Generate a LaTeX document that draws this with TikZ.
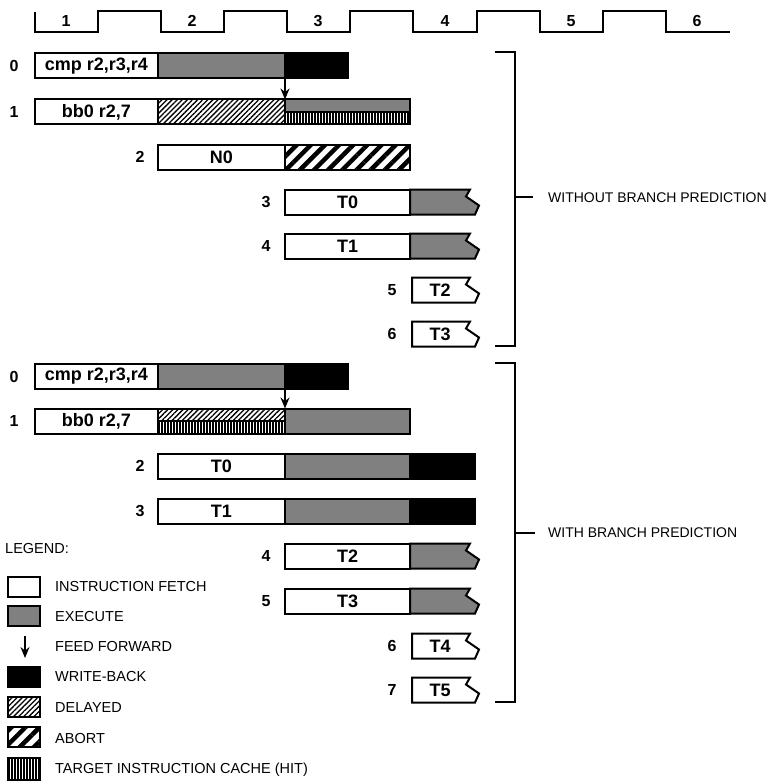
\documentclass[tikz,border=0pt]{standalone}
\usepackage{fontspec}
\setmainfont{Liberation Sans}
\usetikzlibrary{patterns.meta,arrows.meta}
\tikzset{
  cell/.style={draw, line width=2pt, minimum height=25pt, inner sep=0pt, outer sep=0pt, anchor=west},
  half/.style={draw, line width=2pt, minimum height=12.5pt, inner sep=0pt, outer sep=0pt},
  fetchbox/.style={cell, fill=white, font=\bfseries\fontsize{18}{18}\selectfont},
  exebox/.style={cell, fill=black!50},
  wbbox/.style={cell, fill=black},
  dlybox/.style={cell, pattern={Lines[angle=45,distance=3.6pt,line width=1.3pt]}},
  abortbox/.style={cell, pattern={Lines[angle=45,distance=10pt,line width=4.5pt]}},
  cachebox/.style={cell, pattern={Lines[angle=90,distance=3pt,line width=1.3pt]}},
  rowlbl/.style={font=\bfseries\fontsize{16}{16}\selectfont, inner sep=0pt},
  boxtxt/.style={font=\bfseries\fontsize{18}{18}\selectfont, inner sep=0pt},
  sidetxt/.style={font=\fontsize{14}{14}\selectfont, anchor=west, inner sep=0pt},
  legtxt/.style={font=\fontsize{14.5}{14.5}\selectfont, anchor=west, inner sep=0pt},
  legbox/.style={draw, line width=1.8pt, minimum width=32pt, minimum height=20pt, inner sep=0pt, outer sep=0pt, anchor=west},
  ffarrow/.style={-{Stealth[length=11pt,width=9pt]}, line width=1.6pt},
  brk/.style={line width=1.6pt},
  clk/.style={line width=2.2pt},
}
% notched cell: #1 x0, #2 xe, #3 yc, #4 fill options
\newcommand\notchcell[4]{%
  \path[draw, line width=2pt, line join=miter, #4]
    (#1,#3-12.5) -- (#2-8,#3-12.5) -- (#2-12,#3-5.5) -- (#2+1,#3+3.5) -- (#2-3,#3+12.5) -- (#1,#3+12.5) -- cycle;}
\begin{document}
\begin{tikzpicture}[x=1pt,y=-1pt]
\useasboundingbox (0,0) rectangle (775,781);

% clock
\draw[clk] (35,12) -- (35,32) -- (98,32) -- (98,11) -- (161,11) -- (161,32) -- (224,32) -- (224,11)
  -- (287,11) -- (287,32) -- (350,32) -- (350,11) -- (413,11) -- (413,32) -- (477,32) -- (477,11)
  -- (540,11) -- (540,32) -- (603,32) -- (603,11) -- (666,11) -- (666,32) -- (730,32);
\node[rowlbl] (c1) at (66,21) {1};
\node[rowlbl] (c2) at (192,21) {2};
\node[rowlbl] (c3) at (318,21) {3};
\node[rowlbl] (c4) at (445,21) {4};
\node[rowlbl] (c5) at (571,21) {5};
\node[rowlbl] (c6) at (697,21) {6};

% ===== WITHOUT BRANCH PREDICTION =====
% row 0
\node[rowlbl] (l0) at (14,66) {0};
\node[exebox, minimum width=127pt] (a0e) at (158,66) {};
\node[wbbox, minimum width=63pt] (a0w) at (285,66) {};
\node[fetchbox, minimum width=123pt] (a0f) at (35,66) {cmp r2,r3,r4};
% row 1
\node[rowlbl] (l1) at (14,112) {1};
\node[dlybox, minimum width=127pt] (a1d) at (158,112) {};
\node[half, fill=black!50, minimum width=125pt, anchor=south west] (a1e) at (285,112) {};
\node[half, pattern={Lines[angle=90,distance=3pt,line width=1.3pt]}, minimum width=125pt, anchor=north west] (a1c) at (285,112) {};
\node[fetchbox, minimum width=123pt] (a1f) at (35,112) {bb0 r2,7};
\draw[ffarrow] (a0e.south east) -- (a1d.north east);
% row 2
\node[rowlbl] (l2) at (140,157) {2};
\node[abortbox, minimum width=125pt] (a2a) at (285,157) {};
\node[fetchbox, minimum width=127pt] (a2f) at (158,157) {N0};
% row 3
\node[rowlbl] (l3) at (266,202) {3};
\notchcell{410}{478}{202}{fill=black!50}
\node[fetchbox, minimum width=125pt] (a3f) at (285,202) {T0};
% row 4
\node[rowlbl] (l4) at (266,246) {4};
\notchcell{410}{478}{246}{fill=black!50}
\node[fetchbox, minimum width=125pt] (a4f) at (285,246) {T1};
% row 5
\node[rowlbl] (l5) at (392,290) {5};
\notchcell{412}{478}{290}{fill=white}
\node[boxtxt] (a5t) at (440,290) {T2};
% row 6
\node[rowlbl] (l6) at (392,334) {6};
\notchcell{412}{478}{334}{fill=white}
\node[boxtxt] (a6t) at (440,334) {T3};
% bracket
\draw[brk] (495,52) -- (515,52) -- (515,346) -- (495,346);
\coordinate (bk1) at (515,197);
\node[sidetxt] (wo) at (548,198) {WITHOUT BRANCH PREDICTION};
\draw[brk] (bk1) -- ++(18,0);

% ===== WITH BRANCH PREDICTION =====
% row 0
\node[rowlbl] (m0) at (14,377) {0};
\node[exebox, minimum width=127pt] (b0e) at (158,376) {};
\node[wbbox, minimum width=63pt] (b0w) at (285,376) {};
\node[fetchbox, minimum width=123pt] (b0f) at (35,376) {cmp r2,r3,r4};
% row 1
\node[rowlbl] (m1) at (14,421) {1};
\node[half, pattern={Lines[angle=45,distance=3.6pt,line width=1.3pt]}, minimum width=127pt, anchor=south west] (b1d) at (158,421) {};
\node[half, pattern={Lines[angle=90,distance=3pt,line width=1.3pt]}, minimum width=127pt, anchor=north west] (b1c) at (158,421) {};
\node[exebox, minimum width=125pt] (b1e) at (285,421) {};
\node[fetchbox, minimum width=123pt] (b1f) at (35,421) {bb0 r2,7};
\draw[ffarrow] (b0e.south east) -- (b1d.north east);
% row 2
\node[rowlbl] (m2) at (140,466) {2};
\node[exebox, minimum width=125pt] (b2e) at (285,466) {};
\node[wbbox, minimum width=65pt] (b2w) at (410,466) {};
\node[fetchbox, minimum width=127pt] (b2f) at (158,466) {T0};
% row 3
\node[rowlbl] (m3) at (140,511) {3};
\node[exebox, minimum width=125pt] (b3e) at (285,511) {};
\node[wbbox, minimum width=65pt] (b3w) at (410,511) {};
\node[fetchbox, minimum width=127pt] (b3f) at (158,511) {T1};
% row 4
\node[rowlbl] (m4) at (266,556) {4};
\notchcell{410}{478}{556}{fill=black!50}
\node[fetchbox, minimum width=125pt] (b4f) at (285,556) {T2};
% row 5
\node[rowlbl] (m5) at (266,601) {5};
\notchcell{410}{478}{601}{fill=black!50}
\node[fetchbox, minimum width=125pt] (b5f) at (285,601) {T3};
% row 6
\node[rowlbl] (m6) at (392,646) {6};
\notchcell{412}{478}{646}{fill=white}
\node[boxtxt] (b6t) at (440,646) {T4};
% row 7
\node[rowlbl] (m7) at (392,690) {7};
\notchcell{412}{478}{690}{fill=white}
\node[boxtxt] (b7t) at (440,690) {T5};
% bracket
\draw[brk] (495,363) -- (515,363) -- (515,702) -- (495,702);
\coordinate (bk2) at (515,533);
\node[sidetxt] (wi) at (548,533) {WITH BRANCH PREDICTION};
\draw[brk] (bk2) -- ++(20,0);

% ===== LEGEND =====
\node[legtxt] (lg) at (5,549) {LEGEND:};
\node[legbox, fill=white] (k1) at (8,587) {};
\node[legtxt] (t1) at (55,587) {INSTRUCTION FETCH};
\node[legbox, fill=black!50] (k2) at (8,616) {};
\node[legtxt] (t2) at (55,617) {EXECUTE};
\coordinate (k3a) at (25,636);
\coordinate (k3b) at (25,658);
\draw[ffarrow] (k3a) -- (k3b);
\node[legtxt] (t3) at (55,647) {FEED FORWARD};
\node[legbox, fill=black] (k4) at (8,677) {};
\node[legtxt] (t4) at (55,677) {WRITE-BACK};
\node[legbox, pattern={Lines[angle=45,distance=3.6pt,line width=1.3pt]}] (k5) at (8,707) {};
\node[legtxt] (t5) at (55,708) {DELAYED};
\node[legbox, pattern={Lines[angle=45,distance=10pt,line width=4.5pt]}] (k6) at (8,737) {};
\node[legtxt] (t6) at (55,738) {ABORT};
\node[legbox, pattern={Lines[angle=90,distance=3pt,line width=1.3pt]}, minimum height=22pt] (k7) at (8,769) {};
\node[legtxt] (t7) at (55,770) {TARGET INSTRUCTION CACHE (HIT)};
\end{tikzpicture}
\end{document}
